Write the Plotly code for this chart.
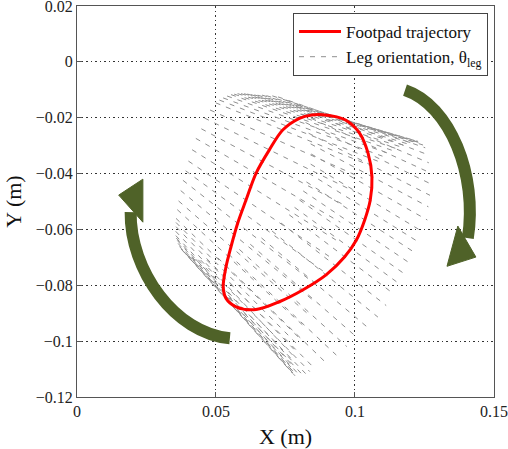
import numpy as np
import plotly.graph_objects as go

# Footpad trajectory (m), clockwise
foot_x = [0.0800, 0.0845, 0.0884, 0.0930, 0.0969, 0.1017, 0.1047, 0.1061, 0.1055,
          0.1035, 0.1005, 0.0963, 0.0896, 0.0812, 0.0728, 0.0644, 0.0572, 0.0536,
          0.0526, 0.0536, 0.0554, 0.0578, 0.0608, 0.0644, 0.0692, 0.0740, 0.0800]
foot_y = [-0.0202, -0.0190, -0.0189, -0.0196, -0.0210, -0.0256, -0.0327, -0.0411, -0.0495,
          -0.0566, -0.0638, -0.0698, -0.0763, -0.0817, -0.0859, -0.0887, -0.0877, -0.0847,
          -0.0805, -0.0734, -0.0662, -0.0578, -0.0495, -0.0399, -0.0315, -0.0244, -0.0202]

# Leg orientation samples: foot position, leg angle (deg), extent up-left / down-right (m)
leg_x = [0.0692, 0.0716, 0.0740, 0.0755, 0.0770, 0.0785, 0.0800, 0.0812, 0.0825, 0.0838,
         0.0850, 0.0862, 0.0875, 0.0888, 0.0900, 0.0915, 0.0930, 0.0950, 0.0969, 0.0995,
         0.1017, 0.1035, 0.1047, 0.1056, 0.1061, 0.1060, 0.1055, 0.1046, 0.1035, 0.1021,
         0.1005, 0.0985,
         0.0963, 0.0931, 0.0896, 0.0855, 0.0812, 0.0770, 0.0728, 0.0686,
         0.0644, 0.0620, 0.0600, 0.0585, 0.0572, 0.0560, 0.0550, 0.0542, 0.0536, 0.0531,
         0.0528, 0.0526, 0.0526, 0.0527, 0.0530, 0.0533,
         0.0536, 0.0545, 0.0554, 0.0566, 0.0578, 0.0593, 0.0608, 0.0626, 0.0644, 0.0668]
leg_y = [-0.0315, -0.0278, -0.0244, -0.0230, -0.0218, -0.0209, -0.0202, -0.0198, -0.0194, -0.0192,
         -0.0190, -0.0189, -0.0189, -0.0190, -0.0191, -0.0193, -0.0197, -0.0202, -0.0210, -0.0230,
         -0.0256, -0.0290, -0.0327, -0.0369, -0.0411, -0.0453, -0.0495, -0.0531, -0.0566, -0.0602,
         -0.0638, -0.0668,
         -0.0698, -0.0731, -0.0763, -0.0791, -0.0817, -0.0839, -0.0859, -0.0875,
         -0.0887, -0.0888, -0.0886, -0.0882, -0.0877, -0.0871, -0.0864, -0.0856, -0.0847, -0.0836,
         -0.0825, -0.0815, -0.0805, -0.0788, -0.0770, -0.0752,
         -0.0734, -0.0698, -0.0662, -0.0620, -0.0578, -0.0537, -0.0495, -0.0447, -0.0399, -0.0357]
leg_angle = [-26, -24, -22, -21, -20, -19.5, -19, -18.5, -18, -17.5,
             -17, -16.5, -16, -16, -16, -16.5, -17, -18, -19, -21,
             -23, -24.5, -26, -27, -28, -29.5, -31, -32, -33, -34,
             -35, -36,
             -37, -38, -39, -40, -41, -42, -43, -44,
             -45, -45.5, -46, -46.5, -47, -47.5, -48, -48, -48, -48,
             -48, -47.5, -47, -46.5, -46, -45,
             -44, -42.5, -41, -39.5, -38, -36, -34, -32, -30, -28]
leg_back = [0.026] * 20 + [0.025] * 46
leg_front = [0.034, 0.034, 0.034, 0.035, 0.035, 0.035, 0.036, 0.036, 0.036, 0.036,
             0.036, 0.036, 0.035, 0.035, 0.034, 0.033, 0.032, 0.031, 0.030, 0.028,
             0.027, 0.026, 0.025, 0.024, 0.023, 0.023, 0.022, 0.022, 0.022, 0.022,
             0.022, 0.022,
             0.022, 0.023, 0.024, 0.025, 0.026, 0.027, 0.028, 0.029,
             0.030, 0.031, 0.032, 0.033, 0.034, 0.034, 0.035, 0.035, 0.036, 0.036,
             0.036, 0.036, 0.036, 0.036, 0.036, 0.036,
             0.036, 0.036, 0.036, 0.036, 0.036, 0.036, 0.036, 0.036, 0.035, 0.034]

x_ticks = [0, 0.05, 0.1, 0.15]
y_ticks = [0.02, 0, -0.02, -0.04, -0.06, -0.08, -0.1, -0.12]

seg_x, seg_y = [], []
for x, y, a, b, f in zip(leg_x, leg_y, leg_angle, leg_back, leg_front):
    ux, uy = np.cos(np.radians(a)), np.sin(np.radians(a))
    seg_x += [x - b * ux, x + f * ux, None]
    seg_y += [y - b * uy, y + f * uy, None]

FONT = "Liberation Serif"
fig = go.Figure()
fig.add_trace(go.Scatter(x=seg_x, y=seg_y, mode="lines",
                         line=dict(color="#8f8f8f", width=1, dash="5px,6px"),
                         name="Leg orientation, θ<sub>leg</sub>"))
fig.add_trace(go.Scatter(x=foot_x, y=foot_y, mode="lines",
                         line=dict(color="#ff0000", width=3, shape="spline", smoothing=0.9),
                         name="Footpad trajectory"))

green = "#4f6228"
arrows = [
    ("M 0.0550,-0.0990 C 0.0352,-0.0972 0.0190,-0.0746 0.0193,-0.0538",
     "M 0.0150,-0.0477 L 0.0237,-0.0420 L 0.0237,-0.0574 Z"),
    ("M 0.1180,-0.0101 C 0.1342,-0.0155 0.1442,-0.0406 0.1406,-0.0631",
     "M 0.1331,-0.0732 L 0.1435,-0.0699 L 0.1370,-0.0588 Z"),
]
shapes = []
for shaft, head in arrows:
    shapes.append(dict(type="path", path=shaft, xref="x", yref="y",
                       line=dict(color=green, width=12), layer="above"))
    shapes.append(dict(type="path", path=head, xref="x", yref="y",
                       line=dict(color=green, width=1), fillcolor=green, layer="above"))

axis_common = dict(showline=True, mirror=True, linecolor="#555555", linewidth=1,
                   ticks="inside", ticklen=5, tickcolor="#555555", automargin=False,
                   ticklabeloverflow="allow",
                   showgrid=True, gridcolor="#333333", griddash="1.5px,3px", gridwidth=1,
                   zeroline=False, tickfont=dict(family=FONT, size=16, color="#222"))
fig.update_layout(
    width=508, height=449,
    margin=dict(l=77, r=14, t=6, b=52),
    paper_bgcolor="white", plot_bgcolor="white",
    shapes=shapes,
    showlegend=True,
    legend=dict(x=0.9856, y=0.982, xanchor="right", yanchor="top",
                bgcolor="white", bordercolor="#444444", borderwidth=1,
                font=dict(family=FONT, size=17, color="#111"), itemwidth=42,
                traceorder="reversed", tracegroupgap=0),
    xaxis=dict(range=[0, 0.15001], tickvals=x_ticks, **axis_common,
               title=dict(text="X (m)", font=dict(family=FONT, size=22, color="#111"), standoff=9)),
    yaxis=dict(range=[-0.12001, 0.02001], tickvals=y_ticks, **axis_common,
               title=dict(text="Y (m)", font=dict(family=FONT, size=22, color="#111"), standoff=8)),
)
fig.write_html("out.html", config={"displayModeBar": False},
               post_script="document.body.style.margin='0px';")
